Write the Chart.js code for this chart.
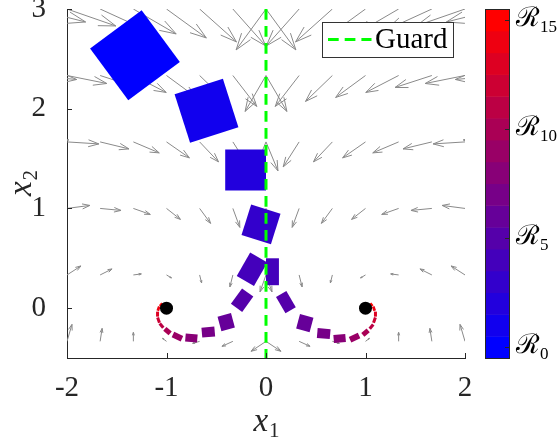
<!DOCTYPE html>
<html>
<head>
<meta charset="utf-8">
<script src="https://cdn.jsdelivr.net/npm/chart.js@4.4.0/dist/chart.umd.min.js"></script>
<style>
  html, body { margin: 0; padding: 0; background: #ffffff; }
  #wrap { width: 558px; height: 442px; }
</style>
</head>
<body>
<div id="wrap"><canvas id="plot" width="558" height="442"></canvas></div>
<script>
// ---- axes ----
const xTicks = [-2, -1, 0, 1, 2];
const yTicks = [0, 1, 2, 3];
const levelTicks = [0, 5, 10, 15];
const levelCount = 16;

// ---- guard line and equilibria ----
const guardX = [0, 0];
const guardY = [3, -0.5];
const eqX = [-1, 1];
const eqY = [0, 0];

// ---- vector field samples (one grid per mode) ----
const fieldRowsY = [3, 2.333, 1.667, 1, 0.333, -0.333];
const leftColsX = [-2.333, -2, -1.667, -1.333, -1, -0.667, -0.333, 0];
const rightColsX = [0, 0.333, 0.667, 1, 1.333, 1.667, 2, 2.333];

const leftU = [
  [0.52, 0.49, 0.46, 0.43, 0.40, 0.37, 0.33, 0.30],
  [0.43, 0.40, 0.37, 0.33, 0.30, 0.27, 0.24, 0.21],
  [0.35, 0.32, 0.29, 0.26, 0.23, 0.19, 0.16, 0.12],
  [0.25, 0.23, 0.21, 0.17, 0.14, 0.11, 0.07, 0.03],
  [0.16, 0.14, 0.12, 0.08, 0.05, 0.02, -0.03, -0.06],
  [0.08, 0.05, 0.02, 0.00, -0.04, -0.07, -0.11, -0.15]
];
const leftV = [
  [-0.13, -0.17, -0.21, -0.25, -0.29, -0.33, -0.37, -0.41],
  [-0.04, -0.08, -0.12, -0.17, -0.22, -0.26, -0.31, -0.36],
  [0.02, -0.02, -0.07, -0.11, -0.16, -0.20, -0.25, -0.29],
  [0.07, 0.03, -0.02, -0.06, -0.11, -0.15, -0.19, -0.22],
  [0.13, 0.09, 0.06, 0.01, -0.03, -0.08, -0.12, -0.17],
  [0.21, 0.17, 0.13, 0.09, 0.03, -0.02, -0.05, -0.10]
];
const rightU = [
  [-0.30, -0.33, -0.37, -0.40, -0.43, -0.46, -0.49, -0.52],
  [-0.21, -0.24, -0.27, -0.30, -0.33, -0.37, -0.40, -0.43],
  [-0.12, -0.16, -0.19, -0.23, -0.26, -0.29, -0.32, -0.35],
  [-0.03, -0.07, -0.11, -0.14, -0.17, -0.21, -0.23, -0.25],
  [0.06, 0.03, -0.02, -0.05, -0.08, -0.12, -0.14, -0.16],
  [0.15, 0.11, 0.07, 0.04, 0.00, -0.02, -0.05, -0.08]
];
const rightV = [
  [-0.41, -0.37, -0.33, -0.29, -0.25, -0.21, -0.17, -0.13],
  [-0.36, -0.31, -0.26, -0.22, -0.17, -0.12, -0.08, -0.04],
  [-0.29, -0.25, -0.20, -0.16, -0.11, -0.07, -0.02, 0.02],
  [-0.22, -0.19, -0.15, -0.11, -0.06, -0.02, 0.03, 0.07],
  [-0.17, -0.12, -0.08, -0.03, 0.01, 0.06, 0.09, 0.13],
  [-0.10, -0.05, -0.02, 0.03, 0.09, 0.13, 0.17, 0.21]
];

// ---- reachable sets: level, centre, width, height (data units), angle (deg) ----
const setLevel = [0, 1, 2, 3, 4, 4, 5, 5, 6, 6, 7, 7, 8, 8, 9, 9, 10, 10, 11, 11, 12, 12, 13, 13, 14, 14, 15, 15];
const setX = [-1.317, -0.598, -0.205, -0.05, -0.14, 0.065, -0.24, 0.20, -0.40, 0.39, -0.58, 0.58, -0.75, 0.74,
              -0.89, 0.89, -0.99, 1.00, -1.05, 1.06, -1.08, 1.09, -1.09, 1.10, -1.08, 1.085, -1.055, 1.06];
const setY = [2.537, 1.979, 1.385, 0.84, 0.39, 0.365, 0.08, 0.06, -0.14, -0.15, -0.24, -0.255, -0.30, -0.305,
              -0.285, -0.295, -0.23, -0.245, -0.175, -0.185, -0.12, -0.12, -0.06, -0.06, -0.005, -0.005, 0.035, 0.035];
const setW = [0.645, 0.51, 0.41, 0.31, 0.20, 0.13, 0.14, 0.12, 0.14, 0.14, 0.13, 0.13, 0.12, 0.12,
              0.10, 0.10, 0.07, 0.07, 0.055, 0.055, 0.055, 0.055, 0.05, 0.05, 0.045, 0.045, 0.035, 0.035];
const setH = [0.645, 0.51, 0.41, 0.32, 0.27, 0.27, 0.19, 0.19, 0.15, 0.15, 0.10, 0.10, 0.08, 0.08,
              0.06, 0.06, 0.05, 0.05, 0.032, 0.032, 0.03, 0.03, 0.03, 0.03, 0.028, 0.028, 0.025, 0.025];
const setAngle = [36.5, 17.8, 0, -17.6, -30, 0, -36, 30, 15, -15, 5, -5, -5, 5,
                  -25, 25, -40, 40, -50, 50, -70, 70, 90, 90, 70, 110, 50, 130];

const axisColor = '#262626';
const serif = '"Liberation Serif", "Times New Roman", serif';

function levelColor(k) {
  const t = k / (levelCount - 1);
  return 'rgb(' + Math.round(255 * t) + ',0,' + Math.round(255 * (1 - t)) + ')';
}

// quiver-style arrow: shaft plus two head strokes
function drawArrow(ctx, x0, y0, x1, y1) {
  const u = x1 - x0, v = y1 - y0;
  const alpha = 0.33, beta = 0.33;
  ctx.beginPath();
  ctx.moveTo(x0, y0);
  ctx.lineTo(x1, y1);
  ctx.moveTo(x1 - alpha * (u + beta * v), y1 - alpha * (v - beta * u));
  ctx.lineTo(x1, y1);
  ctx.lineTo(x1 - alpha * (u - beta * v), y1 - alpha * (v + beta * u));
  ctx.stroke();
}

const fieldPlugin = {
  id: 'fieldPlugin',
  beforeDatasetsDraw(chart) {
    const { ctx, chartArea: a } = chart;
    const xs = chart.scales.x, ys = chart.scales.y;
    ctx.save();
    ctx.beginPath();
    ctx.rect(a.left, a.top, a.right - a.left, a.bottom - a.top);
    ctx.clip();

    // vector field of both modes
    ctx.strokeStyle = '#8a8a8a';
    ctx.lineWidth = 1;
    const grids = [[leftColsX, leftU, leftV], [rightColsX, rightU, rightV]];
    grids.forEach(([cols, U, V]) => {
      fieldRowsY.forEach((yv, r) => {
        cols.forEach((xv, c) => {
          const x0 = xs.getPixelForValue(xv), y0 = ys.getPixelForValue(yv);
          const x1 = xs.getPixelForValue(xv + U[r][c]), y1 = ys.getPixelForValue(yv + V[r][c]);
          drawArrow(ctx, x0, y0, x1, y1);
        });
      });
    });

    // reachable sets
    setLevel.forEach((k, i) => {
      const th = setAngle[i] * Math.PI / 180;
      const c = Math.cos(th), s = Math.sin(th);
      const hw = setW[i] / 2, hh = setH[i] / 2;
      const corners = [[hw, hh], [-hw, hh], [-hw, -hh], [hw, -hh]].map(([p, q]) => [
        xs.getPixelForValue(setX[i] + p * c - q * s),
        ys.getPixelForValue(setY[i] + p * s + q * c)
      ]);
      ctx.fillStyle = levelColor(k);
      ctx.beginPath();
      corners.forEach(([px, py], j) => j ? ctx.lineTo(px, py) : ctx.moveTo(px, py));
      ctx.closePath();
      ctx.fill();
    });
    ctx.restore();
  },
  afterDraw(chart) {
    const { ctx, chartArea: a } = chart;
    const xs = chart.scales.x, ys = chart.scales.y, cs = chart.scales.c;
    ctx.save();

    // inward tick marks
    ctx.strokeStyle = axisColor;
    ctx.lineWidth = 1;
    ctx.beginPath();
    xTicks.forEach(v => {
      const px = Math.round(xs.getPixelForValue(v)) + 0.5;
      ctx.moveTo(px, a.bottom); ctx.lineTo(px, a.bottom - 5);
    });
    yTicks.forEach(v => {
      const py = Math.round(ys.getPixelForValue(v)) + 0.5;
      ctx.moveTo(a.left, py); ctx.lineTo(a.left + 5, py);
    });
    ctx.stroke();

    // legend
    const lw = 131, lh = 35;
    const lx = a.right - 12 - lw, ly = a.top + 13;
    ctx.fillStyle = '#ffffff';
    ctx.fillRect(lx, ly, lw, lh);
    ctx.strokeStyle = '#333333';
    ctx.lineWidth = 1;
    ctx.strokeRect(Math.round(lx) + 0.5, Math.round(ly) + 0.5, lw, lh);
    ctx.strokeStyle = '#00ff00';
    ctx.lineWidth = 3;
    ctx.setLineDash([10.7, 6]);
    ctx.beginPath();
    ctx.moveTo(lx + 6, ly + 17.5); ctx.lineTo(lx + 49.5, ly + 17.5);
    ctx.stroke();
    ctx.setLineDash([]);
    ctx.fillStyle = '#000000';
    ctx.font = '29px ' + serif;
    ctx.textAlign = 'left';
    ctx.textBaseline = 'alphabetic';
    ctx.fillText('Guard', lx + 53, ly + 25.5);

    // colour bar
    const bx = a.right + 20, bw = 24;
    for (let k = 0; k < levelCount; k++) {
      const top = cs.getPixelForValue(k + 0.5), bot = cs.getPixelForValue(k - 0.5);
      ctx.fillStyle = levelColor(k);
      ctx.fillRect(bx, top, bw, bot - top + 0.5);
    }
    ctx.strokeStyle = axisColor;
    ctx.lineWidth = 1;
    const ct = cs.getPixelForValue(levelCount - 0.5), cb = cs.getPixelForValue(-0.5);
    ctx.strokeRect(bx + 0.5, Math.round(ct) + 0.5, bw, Math.round(cb - ct));
    ctx.beginPath();
    levelTicks.forEach(v => {
      const py = Math.round(cs.getPixelForValue(v)) + 0.5;
      ctx.moveTo(bx + bw, py); ctx.lineTo(bx + bw - 4, py);
    });
    ctx.stroke();
    ctx.fillStyle = '#000000';
    levelTicks.forEach(v => {
      const py = cs.getPixelForValue(v);
      ctx.font = '27px "DejaVu Serif", serif';
      ctx.textAlign = 'left';
      ctx.fillText('\u211B', bx + bw + 7, py + 6);
      const rw = ctx.measureText('\u211B').width;
      ctx.font = '17px ' + serif;
      ctx.fillText(String(v), bx + bw + 7 + rw, py + 12);
    });

    // axis titles
    function subLabel(base, sub) {
      ctx.font = 'italic 33px ' + serif;
      const w1 = ctx.measureText(base).width;
      ctx.font = '21px ' + serif;
      const w2 = ctx.measureText(sub).width;
      const x0 = -(w1 + w2) / 2;
      ctx.font = 'italic 33px ' + serif;
      ctx.fillText(base, x0, 0);
      ctx.font = '21px ' + serif;
      ctx.fillText(sub, x0 + w1 + 1, 6);
    }
    ctx.fillStyle = axisColor;
    ctx.textAlign = 'left';
    ctx.textBaseline = 'alphabetic';
    ctx.save();
    ctx.translate((a.left + a.right) / 2, 431);
    subLabel('x', '1');
    ctx.restore();
    ctx.save();
    ctx.translate(31, (a.top + a.bottom) / 2);
    ctx.rotate(-Math.PI / 2);
    subLabel('x', '2');
    ctx.restore();

    ctx.restore();
  }
};

const tickFont = { family: serif, size: 29 };

new Chart(document.getElementById('plot'), {
  type: 'scatter',
  data: {
    datasets: [
      {
        label: 'Equilibria',
        data: eqX.map((v, i) => ({ x: v, y: eqY[i] })),
        pointRadius: 6.5,
        pointHoverRadius: 6.5,
        backgroundColor: '#000000',
        borderColor: '#000000',
        borderWidth: 0
      },
      {
        type: 'line',
        label: 'Guard',
        data: guardX.map((v, i) => ({ x: v, y: guardY[i] })),
        borderColor: '#00ff00',
        borderWidth: 3,
        borderDash: [10.7, 6.3],
        pointRadius: 0,
        fill: false
      }
    ]
  },
  options: {
    responsive: false,
    animation: false,
    devicePixelRatio: 1,
    layout: { padding: { top: 9, left: 0, right: 0, bottom: 0 } },
    plugins: { legend: { display: false }, tooltip: { enabled: false } },
    scales: {
      x: {
        type: 'linear', position: 'bottom', min: -2, max: 2,
        grid: { display: false },
        border: { display: true, color: axisColor, width: 1 },
        ticks: { color: axisColor, font: tickFont, padding: 5, maxRotation: 0, autoSkip: false },
        afterBuildTicks(s) { s.ticks = xTicks.map(v => ({ value: v })); },
        afterFit(s) { s.height = 84; s.paddingLeft = 0; s.paddingRight = 0; }
      },
      y: {
        type: 'linear', position: 'left', min: -0.5, max: 3,
        grid: { display: false },
        border: { display: true, color: axisColor, width: 1 },
        ticks: { color: axisColor, font: tickFont, padding: 13, autoSkip: false },
        afterBuildTicks(s) { s.ticks = yTicks.map(v => ({ value: v })); },
        afterFit(s) { s.width = 67; s.paddingTop = 0; s.paddingBottom = 0; }
      },
      c: {
        type: 'linear', position: 'right', axis: 'y', min: -0.5, max: levelCount - 0.5,
        grid: { display: false },
        border: { display: false },
        ticks: { display: false },
        afterFit(s) { s.width = 93; s.paddingTop = 0; s.paddingBottom = 0; }
      }
    }
  },
  plugins: [fieldPlugin]
});
</script>
</body>
</html>
